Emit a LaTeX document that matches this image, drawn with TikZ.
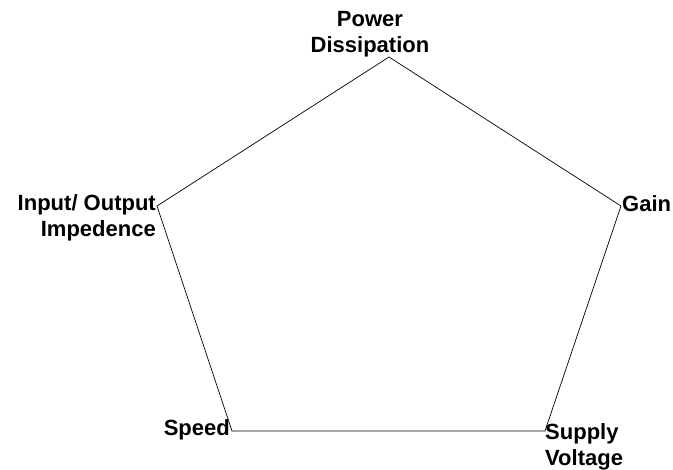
\documentclass[tikz,border=0pt]{standalone}
\usepackage{fontspec}
\setmainfont{Liberation Sans}
\usetikzlibrary{positioning}

\begin{document}
\begin{tikzpicture}[x=1pt,y=-1pt,
  corner/.style={font=\fontsize{22}{26}\selectfont\bfseries,inner sep=0pt}]
  \useasboundingbox[fill=white] (0,0) rectangle (673,470);
  % pentagon corners
  \coordinate (power) at (389,57);
  \coordinate (gain) at (621,206);
  \coordinate (supply) at (545,431);
  \coordinate (speed) at (232,431);
  \coordinate (impede) at (157,206);
  % labels
  \node[corner,align=center,anchor=south] (powerlbl) at (370,57) {Power\\Dissipation};
  \node[corner,anchor=west] (gainlbl) at (622,204) {Gain};
  \node[corner,align=left,anchor=north west] (supplylbl) at (545,423) {Supply\\Voltage};
  \node[corner,anchor=east] (speedlbl) at (230,430) {Speed};
  \node[corner,align=right,anchor=north east] (impedelbl) at (156,194) {Input/ Output\\Impedence};
  % the pentagon
  \draw[line width=0.7pt] (power) -- (gain) -- (supply) -- (speed) -- (impede) -- cycle;
\end{tikzpicture}
\end{document}
